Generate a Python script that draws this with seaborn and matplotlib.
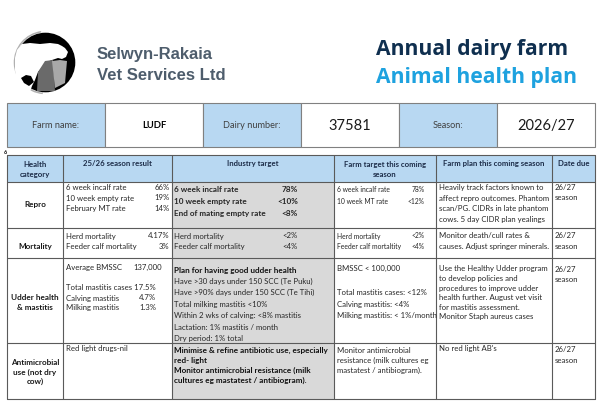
import matplotlib
matplotlib.use("Agg")
import matplotlib.pyplot as plt
from matplotlib.patches import Rectangle, Circle, Polygon, Arc
import seaborn as sns

# ---------------- data ----------------
company_lines = ["Selwyn-Rakaia", "Vet Services Ltd"]
title_line1 = "Annual dairy farm"
title_line2 = "Animal health plan"

info_labels = ["Farm name:", "Dairy number:", "Season:"]
info_values = ["LUDF", "37581", "2026/27"]

col_headers = ["Health\ncategory", "25/26 season result", "Industry target",
               "Farm target this coming\nseason", "Farm plan this coming season", "Date due"]
categories = ["Repro", "Mortality", "Udder health\n& mastitis", "Antimicrobial\nuse (not dry\ncow)"]

# 25/26 season result (label, value)
result_repro = [("6 week incalf rate", "66%"), ("10 week empty rate", "19%"), ("February MT rate", "14%")]
result_mort = [("Herd mortality", "4.17%"), ("Feeder calf mortality", "3%")]
result_udder_labels = ["Average BMSSC", "Total mastitis cases 17.5%", "Calving mastitis", "Milking mastitis"]
result_udder_values = ["137,000", "", "4.7%", "1.3%"]
result_amr = ["Red light drugs-nil"]

# Industry target
target_repro = [("6 week incalf rate", "78%"), ("10 week empty rate", "<10%"), ("End of mating empty rate", "<8%")]
target_mort = [("Herd mortality", "<2%"), ("Feeder calf mortality", "<4%")]
target_udder = ["Plan for having good udder health", "Have >30 days under 150 SCC (Te Puku)",
                "Have >90% days under 150 SCC (Te Tihi)", "Total milking mastitis <10%",
                "Within 2 wks of calving: <8% mastitis", "Lactation: 1% mastitis / month",
                "Dry period: 1% total"]
target_amr = ["Minimise & refine antibiotic use, especially", "red- light",
              "Monitor antimicrobial resistance (milk", "cultures eg mastatest / antibiogram)."]

# Farm target this coming season
farm_repro = [("6 week incalf rate", "78%"), ("10 week MT rate", "<12%")]
farm_mort = [("Herd mortality", "<2%"), ("Feeder calf mortaltity", "<4%")]
farm_udder = ["BMSSC < 100,000", "Total mastitis cases: <12%", "Calving mastitis: <4%",
              "Milking mastitis: < 1%/month"]
farm_amr = ["Monitor antimicrobial", "resistance (milk cultures eg", "mastatest / antibiogram)."]

# Farm plan
plan_repro = ["Heavily track factors known to", "affect repro outcomes. Phantom",
              "scan/PG. CIDRs in late phantom", "cows. 5 day CIDR plan yealings"]
plan_mort = ["Monitor death/cull rates &", "causes. Adjust springer minerals."]
plan_udder = ["Use the Healthy Udder program", "to develop policies and",
              "procedures to improve udder", "health further. August vet visit",
              "for mastitis assessment.", "Monitor Staph aureus cases"]
plan_amr = ["No red light AB's"]

date_due = ["26/27\nseason"] * 4

# ---------------- style ----------------
sns.set_theme(style="white")
plt.rcParams['font.family'] = ['Lato', 'DejaVu Sans']

NAVY = "#0f2f4f"
LBLUE = "#1ea2df"
HDR = "#b8d8f2"
GREY = "#d9d9d9"
LINE = "#5a5a5a"
TXT = "#262626"
HTXT = "#1c2c48"
FS = 5.6
FSB = 5.9
FS3 = 4.9

fig = plt.figure(figsize=(6.02, 4.05), dpi=100)
ax = fig.add_axes([0, 0, 1, 1])
ax.set_xlim(0, 602)
ax.set_ylim(405, 0)
ax.axis("off")

# ---------------- logo ----------------
ax.add_patch(Arc((45.5, 62.5), 62, 62, theta1=95, theta2=262, color="#b0b0b0", lw=1.1, zorder=1))
ax.add_patch(Circle((45.5, 62.5), 29.8, facecolor="black", edgecolor="none", zorder=2))
ax.add_patch(Polygon([(17, 50), (22, 44), (30, 43), (40, 44), (50, 43), (58, 44), (62, 46), (65, 48),
                      (68, 52), (66, 57), (62, 59), (58, 58), (52, 60), (47, 62), (43, 66), (38, 72),
                      (35, 80), (32, 86), (30, 92), (24, 92), (17, 84), (15, 70), (15, 58)],
                     closed=True, facecolor="white", edgecolor="none", zorder=3))
ax.add_patch(Polygon([(21, 78), (26, 75), (31, 76), (34, 82), (29, 86), (24, 83)],
                     closed=True, facecolor="black", edgecolor="none", zorder=4))
ax.add_patch(Polygon([(37, 91), (38, 72), (45, 61), (53, 60), (55, 91)],
                     closed=True, facecolor="#6a6a6a", edgecolor="none", zorder=4))
ax.add_patch(Polygon([(52, 61), (60, 60), (67, 61), (65, 83), (55, 88)],
                     closed=True, facecolor="#a8a8a8", edgecolor="none", zorder=4))

ax.text(97, 55, company_lines[0], fontsize=12, fontweight="bold", color="#4e5d6c",
        family=["Liberation Sans", "DejaVu Sans"], va="center", ha="left")
ax.text(97, 75, company_lines[1], fontsize=12, fontweight="bold", color="#4e5d6c",
        family=["Liberation Sans", "DejaVu Sans"], va="center", ha="left")

ax.text(376, 49, title_line1, fontsize=15.2, fontweight="bold", color=NAVY,
        family=["Open Sans", "DejaVu Sans"], va="center", ha="left")
ax.text(376, 77, title_line2, fontsize=15.2, fontweight="bold", color=LBLUE,
        family=["Open Sans", "DejaVu Sans"], va="center", ha="left")

# ---------------- info box ----------------
bx0, bx1, by0, by1 = 7, 595, 103, 147
w = (bx1 - bx0) / 6
for i in range(3):
    xl = bx0 + 2 * i * w
    ax.add_patch(Rectangle((xl, by0), w, by1 - by0, facecolor=HDR, edgecolor="#808080", lw=0.8, zorder=2))
    ax.add_patch(Rectangle((xl + w, by0), w, by1 - by0, facecolor="white", edgecolor="#808080", lw=0.8, zorder=2))
    ax.text(xl + w / 2, 126, info_labels[i], fontsize=6.6, color="#404040", ha="center", va="center", zorder=3)
    if i == 0:
        ax.text(xl + 1.5 * w, 126, info_values[i], fontsize=6.8, fontweight="bold", color="black",
                ha="center", va="center", zorder=3)
    else:
        ax.text(xl + 1.5 * w, 126, info_values[i], fontsize=10.5, color="#1a1a1a",
                ha="center", va="center", zorder=3)

ax.text(4, 152, "6", fontsize=4, fontweight="bold", color="black", ha="left", va="center")

# ---------------- main table ----------------
xs = [7, 63, 172, 334, 436, 552, 595]
ys = [155, 182, 228, 258, 343, 399]

ax.add_patch(Rectangle((xs[0], ys[0]), xs[-1] - xs[0], ys[1] - ys[0], facecolor=HDR, edgecolor="none", zorder=1))
ax.add_patch(Rectangle((xs[2], ys[1]), xs[3] - xs[2], ys[-1] - ys[1], facecolor=GREY, edgecolor="none", zorder=1))

for x in xs:
    ax.plot([x, x], [ys[0], ys[-1]], color=LINE, lw=0.8, zorder=2)
for y in ys:
    ax.plot([xs[0], xs[-1]], [y, y], color=LINE, lw=0.8, zorder=2)

for j, h in enumerate(col_headers):
    cx = (xs[j] + xs[j + 1]) / 2
    n = h.count("\n") + 1
    ax.text(cx, 163.5 if n == 1 else 169.5, h, fontsize=FS, fontweight="bold", color=HTXT,
            ha="center", va="center", linespacing=1.45, zorder=3)

cat_y = [205, 246.5, 302.5, 372]
for i, c in enumerate(categories):
    ax.text(35, cat_y[i], c, fontsize=FS + 0.3, fontweight="bold", color="#1a1a1a",
            ha="center", va="center", linespacing=1.35, zorder=3)


def pairs(items, xl, xr, y0, dy, bold=False, fs=FS):
    for k, (lab, val) in enumerate(items):
        y = y0 + k * dy
        ax.text(xl, y, lab, fontsize=fs, color=TXT, fontweight="bold" if bold else "normal",
                ha="left", va="center", zorder=3)
        ax.text(xr, y, val, fontsize=fs, color=TXT, fontweight="bold" if bold else "normal",
                ha="right", va="center", zorder=3)


def lines(items, xl, y0, dy, bold_idx=(), all_bold=False):
    for k, t in enumerate(items):
        b = all_bold or k in bold_idx
        ax.text(xl, y0 + k * dy, t, fontsize=FSB if b else FS, color="#111111" if b else TXT,
                fontweight="bold" if b else "normal", ha="left", va="center", zorder=3)


# 25/26 season result
pairs(result_repro, 66, 169.5, 187.5, 10.5)
pairs(result_mort, 66, 169.5, 236, 10.5)
udder_y = [267.5, 288, 298, 307.5]
udder_vx = [133, 134, 139, 139]
for k in range(4):
    ax.text(66, udder_y[k], result_udder_labels[k], fontsize=FS, color=TXT, ha="left", va="center", zorder=3)
    if result_udder_values[k]:
        ax.text(udder_vx[k], udder_y[k], result_udder_values[k], fontsize=FS, color=TXT, ha="left",
                va="center", zorder=3)
lines(result_amr, 66, 349, 10.5)

# industry target
pairs(target_repro, 174, 298, 189.5, 12, bold=True, fs=FSB)
pairs(target_mort, 174, 298, 236, 10.5)
lines(target_udder, 174, 270, 11.4, bold_idx=(0,))
lines(target_amr, 174, 350.5, 9.9, all_bold=True)

# farm target
pairs(farm_repro, 337, 425, 189.5, 12, fs=FS3)
pairs(farm_mort, 337, 425, 236, 10.5, fs=FS3)
ax.text(337, 268.5, farm_udder[0], fontsize=FS, color=TXT, ha="left", va="center", zorder=3)
lines(farm_udder[1:], 337, 292.5, 11.6)
lines(farm_amr, 337, 350.5, 9.9)

# farm plan
lines(plan_repro, 439, 187.5, 10.6)
lines(plan_mort, 439, 236, 10.5)
lines(plan_udder, 439, 269, 9.6)
lines(plan_amr, 439, 349, 10)

# date due
date_y = [187.5, 236, 269, 350]
for i, d in enumerate(date_due):
    a, b = d.split("\n")
    ax.text(555, date_y[i], a, fontsize=FS, color=TXT, ha="left", va="center", zorder=3)
    ax.text(555, date_y[i] + 10.4, b, fontsize=FS, color=TXT, ha="left", va="center", zorder=3)

fig.savefig("out.png", dpi=100, facecolor="white")
